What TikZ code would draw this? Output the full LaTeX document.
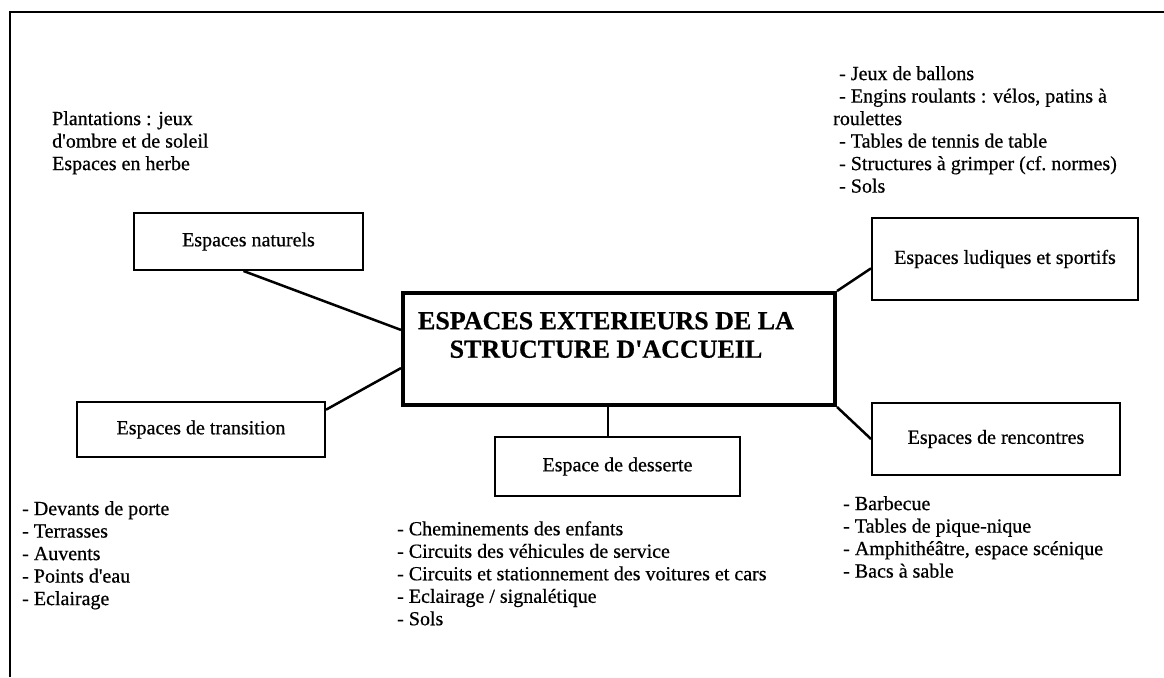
\documentclass[tikz,border=0pt]{standalone}
\usepackage{fontspec}
\setmainfont{Liberation Serif}[Ligatures=TeXOff, FakeBold=0.6]
\usepackage{tikz}

\tikzset{
  espace/.style={draw, line width=2pt, inner sep=0pt, font=\fontsize{20}{22.5}\selectfont},
  liste/.style={anchor=north west, align=left, inner sep=0pt, font=\fontsize{20}{22.5}\selectfont},
  lien/.style={line width=2.5pt}
}
\newcommand{\tiret}{\hspace*{6pt}- }

\begin{document}
\begin{tikzpicture}[x=1pt,y=-1pt]
  \useasboundingbox (0,0) rectangle (1164,677);
  \draw[line width=2pt] (10,677) -- (10,12) -- (1164,12);

  % centre
  \node[draw, line width=4pt, minimum width=432pt, minimum height=112pt] (centre) at (619,349) {};
  \node[align=center, inner sep=0pt, font=\fontsize{26}{28.5}\selectfont\bfseries] (titre) at (606,335)
    {ESPACES EXTERIEURS DE LA\\STRUCTURE D'ACCUEIL};

  % les espaces
  \node[espace, minimum width=229pt, minimum height=57pt] (naturels) at (248.5,241.5) {Espaces naturels};
  \node[espace, minimum width=266pt, minimum height=82pt] (ludiques) at (1005,259) {Espaces ludiques et sportifs};
  \node[espace, minimum width=248pt, minimum height=72pt] (rencontres) at (996,439) {Espaces de rencontres};
  \node[espace, minimum width=248pt, minimum height=55pt] (transition) at (201,429.5) {Espaces de transition};
  \node[espace, minimum width=245pt, minimum height=59pt] (desserte) at (617.5,466.5) {Espace de desserte};

  \draw[lien] ([xshift=-5pt]naturels.south) -- (centre.175);
  \draw[lien] (transition.9) -- (centre.185.5);
  \draw[lien] (centre.north east) -- (ludiques.184);
  \draw[lien] (centre.south east) -- (rencontres.west);
  \draw[lien] ([xshift=-11pt]centre.south) -- ([xshift=-11pt]centre.south |- desserte.north);

  % listes
  \node[liste] (plantations) at (52,111) {Plantations : jeux\\d'ombre et de soleil\\Espaces en herbe};
  \node[liste] (jeux) at (833,66) {\tiret Jeux de ballons\\\tiret Engins roulants : v\'elos, patins \`a\\roulettes\\
    \tiret Tables de tennis de table\\\tiret Structures \`a grimper (cf.\ normes)\\\tiret Sols};
  \node[liste] (devants) at (22,501) {- Devants de porte\\- Terrasses\\- Auvents\\- Points d'eau\\- Eclairage};
  \node[liste] (cheminements) at (397,521) {- Cheminements des enfants\\- Circuits des v\'ehicules de service\\
    - Circuits et stationnement des voitures et cars\\- Eclairage / signal\'etique\\- Sols};
  \node[liste] (barbecue) at (843,496) {- Barbecue\\- Tables de pique-nique\\- Amphith\'e\^atre, espace sc\'enique\\- Bacs \`a sable};
\end{tikzpicture}
\end{document}
